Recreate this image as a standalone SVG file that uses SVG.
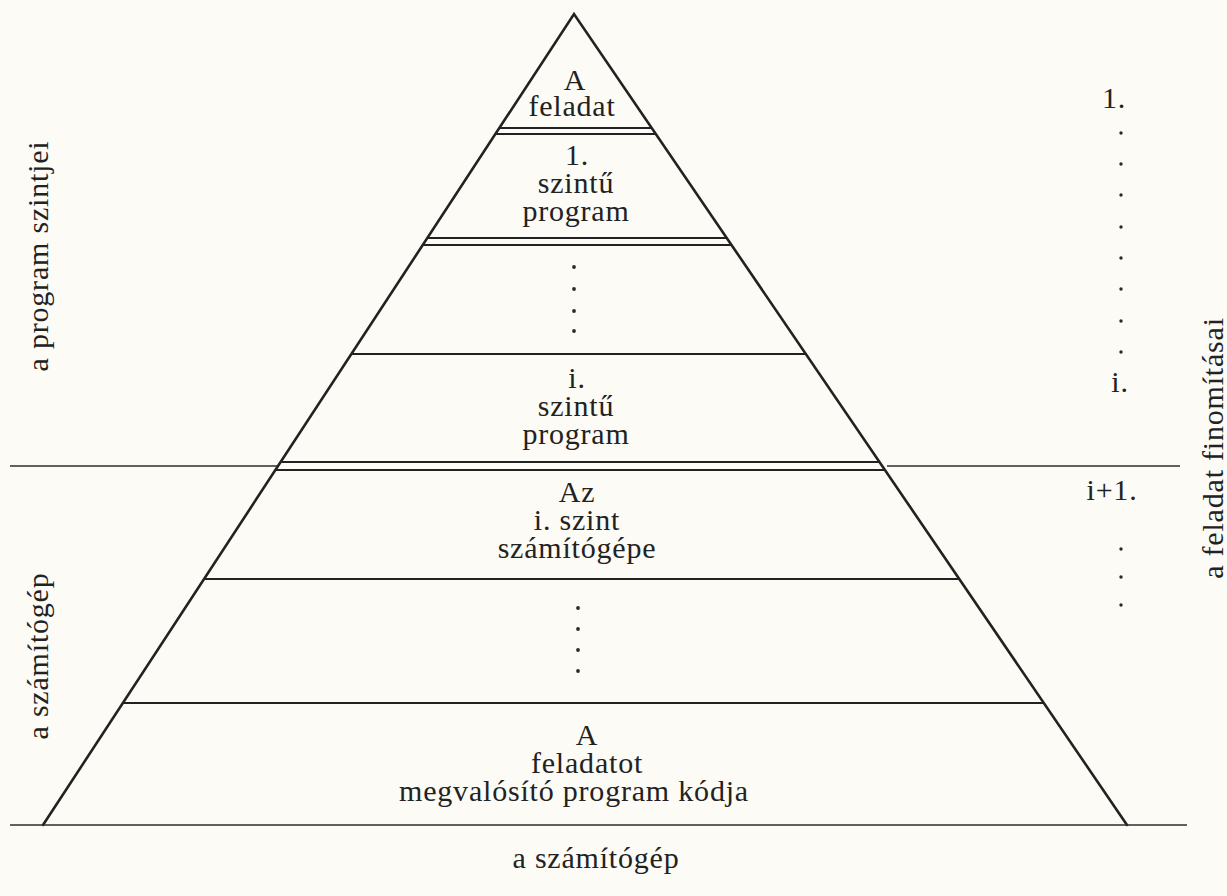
<svg xmlns="http://www.w3.org/2000/svg" width="1227" height="896" viewBox="0 0 1227 896">
<style>
.bg{fill:#fcfbf6}
.edge{stroke:#222;stroke-width:2.6;fill:none;stroke-linecap:round}
.lay{stroke:#222;stroke-width:2.2;fill:none}
.rule{stroke:#2e2e2e;stroke-width:1.7;fill:none}
text{font-family:"Liberation Serif","Times New Roman",serif;font-size:30px;letter-spacing:0.8px;fill:#222;text-anchor:middle}
.dot{fill:#2a2a2a}
</style>
<rect class="bg" x="0" y="0" width="1227" height="896"/>
<g id="frame">
<polyline class="edge" points="43,825 574,14 1127,825"/>
<line class="rule" x1="10" y1="825" x2="1187" y2="825"/>
<line class="rule" x1="10" y1="466" x2="277" y2="466"/>
<line class="rule" x1="887" y1="466" x2="1180" y2="466"/>
</g>
<g id="level-task">
<line class="lay" x1="499" y1="128" x2="652" y2="128"/>
<text x="575" y="90">A<tspan x="572" dy="26">feladat</tspan></text>
</g>
<g id="level-1">
<line class="lay" x1="495" y1="134" x2="656" y2="134"/>
<line class="lay" x1="427" y1="238" x2="727" y2="238"/>
<text x="577" y="165">1.<tspan x="576" dy="28">szintű</tspan><tspan x="576" dy="28">program</tspan></text>
</g>
<g id="level-dots-upper">
<line class="lay" x1="423" y1="245" x2="731" y2="245"/>
<line class="lay" x1="351" y1="354" x2="806" y2="354"/>
<circle class="dot" cx="574" cy="267" r="1.9"/>
<circle class="dot" cx="574" cy="289" r="1.9"/>
<circle class="dot" cx="574" cy="311" r="1.9"/>
<circle class="dot" cx="574" cy="331" r="1.9"/>
</g>
<g id="level-i">
<line class="lay" x1="280" y1="462" x2="880" y2="462"/>
<text x="577" y="388">i.<tspan x="576" dy="28">szintű</tspan><tspan x="576" dy="28">program</tspan></text>
</g>
<g id="level-machine-i">
<line class="lay" x1="275" y1="470" x2="885" y2="470"/>
<line class="lay" x1="204" y1="579" x2="959" y2="579"/>
<text x="577" y="502">Az<tspan x="577" dy="28">i. szint</tspan><tspan x="577" dy="28">számítógépe</tspan></text>
</g>
<g id="level-dots-lower">
<line class="lay" x1="123" y1="703" x2="1044" y2="703"/>
<circle class="dot" cx="578" cy="608" r="1.9"/>
<circle class="dot" cx="578" cy="629" r="1.9"/>
<circle class="dot" cx="578" cy="650" r="1.9"/>
<circle class="dot" cx="578" cy="671" r="1.9"/>
</g>
<g id="level-code">
<text x="587" y="745">A<tspan x="587" dy="28">feladatot</tspan><tspan x="574" dy="28">megvalósító program kódja</tspan></text>
</g>
<g id="left-labels">
<text transform="translate(48,256) rotate(-90)">a program szintjei</text>
<text transform="translate(48,656) rotate(-90)">a számítógép</text>
</g>
<g id="right-labels">
<text x="1114" y="108">1.</text>
<circle class="dot" cx="1121" cy="133" r="1.7"/>
<circle class="dot" cx="1121" cy="164" r="1.7"/>
<circle class="dot" cx="1121" cy="195" r="1.7"/>
<circle class="dot" cx="1121" cy="227" r="1.7"/>
<circle class="dot" cx="1121" cy="258" r="1.7"/>
<circle class="dot" cx="1121" cy="289" r="1.7"/>
<circle class="dot" cx="1121" cy="321" r="1.7"/>
<circle class="dot" cx="1121" cy="352" r="1.7"/>
<text x="1120" y="392">i.</text>
<text x="1112" y="500">i+1.</text>
<circle class="dot" cx="1121" cy="549" r="1.7"/>
<circle class="dot" cx="1121" cy="577" r="1.7"/>
<circle class="dot" cx="1121" cy="605" r="1.7"/>
<text transform="translate(1223,448) rotate(-90)">a feladat finomításai</text>
</g>
<g id="bottom-label">
<text x="596" y="868">a számítógép</text>
</g>
</svg>
